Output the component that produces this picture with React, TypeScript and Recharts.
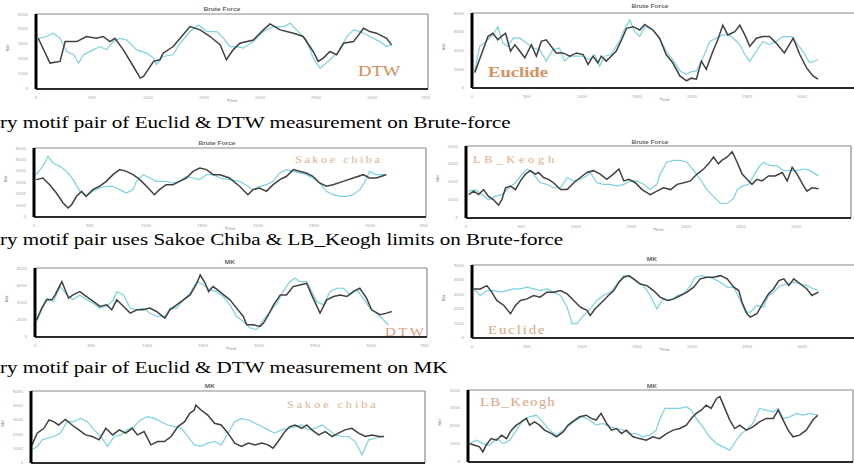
import { LineChart, Line, XAxis, YAxis, ReferenceLine } from "recharts";

// values: [time, value] in axis units (x ticks every 10, y ticks every 10)
const bfDtwDark = [[0.4,33.8],[2.5,17.3],[4.3,18.4],[5.2,31.6],[7.3,31.6],[9.0,35.0],[10.8,33.8],[12.0,35.0],[13.2,31.6],[14.1,33.8],[15.6,26.1],[17.4,15.0],[18.6,7.3],[19.2,8.4],[21.0,18.4],[22.1,19.5],[22.7,23.9],[24.5,28.3],[26.0,35.0],[27.5,41.6],[29.3,39.4],[31.1,35.0],[32.9,29.4],[34.0,19.5],[35.2,26.1],[36.4,30.5],[38.8,32.7],[40.6,39.4],[41.8,43.4],[43.6,39.4],[46.0,37.2],[47.7,35.0],[49.5,25.0],[50.4,18.4],[51.3,20.6],[52.5,25.0],[53.7,22.8],[54.9,30.5],[56.7,31.6],[58.5,40.5],[59.6,38.3],[60.8,37.2],[62.6,33.8],[63.5,29.4]];
const bfDtwCyan = [[0.4,33.8],[1.9,35.0],[3.1,37.2],[4.3,33.8],[5.5,25.0],[6.7,22.8],[7.6,17.3],[8.5,22.8],[10.2,26.1],[11.4,28.3],[12.6,26.1],[13.8,31.6],[15.0,33.8],[16.2,32.7],[18.0,26.1],[19.8,23.9],[21.0,20.6],[21.5,16.2],[22.7,21.7],[24.5,22.8],[25.7,30.5],[27.5,38.3],[29.0,42.7],[30.5,38.3],[32.3,38.3],[33.5,33.8],[34.6,28.3],[35.8,28.3],[37.0,27.2],[38.8,31.6],[40.6,38.3],[42.4,41.6],[44.2,41.6],[45.4,43.8],[47.1,37.2],[48.3,32.7],[49.5,20.6],[50.7,13.9],[52.5,19.5],[54.3,26.1],[55.5,35.0],[56.7,39.4],[57.9,38.3],[59.6,35.0],[61.4,31.6],[62.6,28.3],[63.5,29.4]];

const bfEucDark = [[0.5,16.4],[1.7,35.7],[2.9,54.9],[3.8,58.4],[4.7,51.4],[5.3,54.9],[6.1,58.4],[7.0,39.2],[7.8,46.2],[8.7,39.2],[9.6,32.2],[10.8,46.2],[11.7,33.9],[12.6,49.7],[13.5,51.4],[14.4,44.4],[15.3,37.4],[16.5,37.4],[17.8,33.9],[19.0,37.4],[20.2,35.7],[21.1,25.2],[22.0,33.9],[22.9,26.9],[23.5,33.9],[24.4,28.7],[25.3,33.9],[26.2,39.2],[27.2,51.4],[28.1,63.6],[29.3,65.4],[30.5,61.9],[31.4,67.8],[32.9,61.9],[34.1,53.1],[35.3,35.7],[36.5,26.9],[37.8,12.9],[39.0,7.7],[39.9,10.5],[40.8,9.4],[41.7,28.7],[42.6,19.9],[43.8,39.2],[44.7,51.4],[45.6,67.1],[46.5,56.6],[47.8,60.1],[48.7,67.1],[49.6,56.6],[50.5,44.4],[51.7,53.1],[52.9,54.9],[54.1,54.9],[55.3,47.9],[56.8,37.4],[58.4,53.1],[59.6,35.7],[60.8,21.7],[62.0,12.9],[62.9,9.4]];
const bfEucCyan = [[0.5,18.2],[1.4,44.4],[2.6,49.7],[3.8,56.6],[4.7,65.4],[5.6,47.9],[6.5,44.4],[7.5,53.1],[8.7,53.1],[9.9,47.9],[11.1,42.7],[12.3,40.9],[13.5,28.7],[14.7,40.9],[15.9,42.7],[16.8,28.7],[17.8,33.9],[19.0,33.9],[20.2,33.9],[21.4,30.4],[22.3,35.7],[23.2,23.4],[24.1,33.9],[25.3,35.7],[26.8,49.7],[27.8,63.6],[28.7,72.4],[29.6,60.1],[30.5,54.9],[31.4,65.4],[32.9,61.9],[34.1,53.1],[35.3,39.2],[36.5,30.4],[37.8,18.2],[39.0,14.7],[39.9,17.5],[40.8,18.2],[42.0,32.2],[43.2,49.7],[44.4,53.1],[45.6,56.6],[46.8,56.6],[47.8,51.4],[48.7,46.2],[49.6,35.7],[50.5,28.7],[51.7,39.2],[52.9,49.7],[54.1,46.2],[55.3,49.7],[56.5,54.9],[58.1,54.9],[59.0,47.9],[60.2,39.2],[61.4,26.9],[62.9,30.4]];

const bfSakDark = [[0.4,32.5],[1.6,33.9],[2.8,28.1],[4.0,20.9],[5.2,12.2],[6.1,7.8],[6.7,10.7],[7.6,18.0],[8.5,22.3],[9.3,18.0],[10.5,23.8],[11.7,26.7],[12.9,31.0],[14.1,36.8],[15.3,41.2],[16.5,39.7],[17.7,36.8],[18.9,32.5],[20.1,26.7],[21.5,19.4],[22.4,23.8],[23.6,28.1],[24.8,28.1],[26.0,31.0],[27.2,33.9],[28.4,39.7],[29.6,42.6],[30.8,41.2],[32.0,36.8],[33.2,36.8],[34.9,33.9],[36.7,26.7],[38.2,19.4],[39.1,23.8],[40.3,25.2],[41.5,22.3],[42.7,28.1],[43.9,32.5],[45.1,35.4],[46.3,41.2],[47.4,39.7],[48.6,38.3],[49.8,35.4],[51.0,29.6],[52.2,26.7],[53.4,28.1],[55.2,31.0],[57.0,33.9],[58.8,36.8],[59.9,33.9],[61.1,33.9],[62.9,36.8]];
const bfSakCyan = [[0.4,36.8],[1.6,44.1],[2.5,52.8],[3.4,47.0],[4.6,44.1],[5.8,39.7],[7.0,32.5],[8.2,22.3],[9.3,18.0],[10.5,22.3],[11.7,25.2],[12.9,26.7],[14.1,26.7],[15.3,23.8],[16.5,20.9],[17.7,23.8],[18.3,31.0],[19.5,36.8],[20.7,33.9],[21.8,31.0],[23.6,31.0],[24.8,29.6],[26.0,31.0],[27.2,35.4],[28.4,33.9],[29.6,32.5],[30.8,36.8],[32.0,36.8],[33.2,33.9],[34.9,32.5],[36.7,31.0],[38.2,26.7],[39.1,23.8],[40.3,26.7],[41.5,28.1],[42.7,31.0],[43.9,38.3],[45.1,41.2],[46.3,39.7],[47.4,38.3],[48.6,36.8],[49.8,33.9],[51.0,29.6],[52.2,22.3],[53.4,19.4],[54.6,18.0],[55.8,18.0],[57.0,19.4],[58.2,23.8],[59.3,32.5],[59.9,39.7],[61.1,36.8],[62.9,36.8]];

const bfLbkDark = [[0.5,13.0],[1.4,14.9],[2.3,13.0],[3.2,15.8],[4.1,12.0],[5.0,10.1],[5.9,7.2],[6.5,10.1],[7.2,16.8],[8.1,17.7],[9.0,15.8],[9.9,20.6],[10.8,24.4],[11.7,26.3],[12.6,24.4],[13.2,25.3],[14.1,22.5],[15.0,21.5],[15.9,19.6],[17.2,15.8],[18.4,15.8],[19.6,19.6],[20.8,22.5],[22.0,25.3],[23.2,26.3],[24.4,24.4],[25.6,21.5],[26.8,24.4],[27.8,27.2],[28.7,20.6],[29.6,21.5],[30.8,19.6],[32.0,15.8],[33.5,13.0],[34.7,14.9],[35.9,16.8],[37.2,15.8],[38.4,18.7],[39.6,19.6],[40.8,20.6],[42.0,24.4],[43.2,27.2],[44.1,30.1],[45.0,33.9],[45.9,30.1],[46.5,32.0],[47.5,33.9],[48.4,36.8],[49.3,31.0],[50.2,24.4],[51.1,21.5],[52.0,18.7],[52.9,21.5],[53.8,20.6],[55.0,23.4],[56.2,23.4],[57.5,25.3],[58.4,20.6],[59.3,28.2],[60.2,24.4],[61.4,17.7],[62.0,14.9],[62.9,16.8],[64.1,16.2]];
const bfLbkCyan = [[0.5,14.9],[1.7,15.8],[2.9,13.0],[4.1,10.1],[5.3,12.0],[6.5,13.0],[7.8,16.8],[9.0,19.6],[10.2,24.4],[11.1,27.2],[12.3,24.4],[13.5,19.6],[14.7,18.7],[15.9,16.8],[17.2,16.8],[18.4,22.5],[19.6,20.6],[20.8,21.5],[22.0,23.4],[22.6,25.3],[23.8,19.6],[25.0,18.7],[26.2,18.7],[27.5,17.7],[28.7,18.7],[29.9,20.6],[31.1,20.6],[32.3,18.7],[33.5,15.8],[34.7,18.7],[35.3,24.4],[36.5,31.0],[37.8,32.0],[39.0,32.0],[40.2,31.0],[41.4,26.3],[42.6,21.5],[43.8,15.8],[45.0,12.0],[46.2,8.2],[47.5,8.2],[48.7,11.0],[49.3,15.8],[50.2,17.7],[51.4,18.7],[52.3,23.4],[53.2,28.2],[54.1,31.0],[55.3,29.1],[56.5,29.1],[57.8,26.3],[59.0,26.3],[60.2,26.3],[61.4,27.2],[62.6,26.3],[64.1,23.4]];

const mkDtwDark = [[0.3,20.0],[1.2,33.5],[2.1,43.1],[3.0,43.1],[3.6,48.8],[4.5,60.4],[4.8,64.2],[5.4,54.6],[6.0,45.0],[6.8,48.8],[8.0,52.7],[9.2,46.9],[10.4,41.2],[11.6,35.4],[12.8,37.3],[13.7,31.5],[14.6,43.1],[15.5,37.3],[17.0,27.7],[18.2,31.5],[19.3,31.5],[20.5,33.5],[21.7,29.6],[23.2,21.9],[24.1,31.5],[25.3,37.3],[26.5,43.1],[27.7,48.8],[28.9,62.3],[29.5,71.9],[30.4,62.3],[31.0,52.7],[31.8,58.5],[33.0,52.7],[34.8,43.1],[36.0,33.5],[37.2,23.8],[37.8,14.2],[39.0,14.2],[40.2,12.3],[40.8,16.2],[41.7,25.8],[42.6,37.3],[43.8,48.8],[44.9,48.8],[46.1,58.5],[47.3,60.4],[48.5,62.3],[49.4,48.8],[50.9,27.7],[52.1,43.1],[53.3,46.9],[54.5,48.8],[55.7,46.9],[56.8,52.7],[58.0,56.5],[59.2,45.0],[60.1,31.5],[61.6,25.8],[62.8,27.7],[63.7,29.6]];
const mkDtwCyan = [[0.3,18.1],[1.2,31.5],[2.1,45.0],[3.3,41.2],[4.5,58.5],[5.7,48.8],[6.8,43.1],[8.0,48.8],[9.2,43.1],[10.4,39.2],[11.6,33.5],[12.8,35.4],[14.0,43.1],[14.6,52.7],[15.8,48.8],[17.0,33.5],[18.2,31.5],[19.3,33.5],[20.5,27.7],[21.7,23.8],[23.2,23.8],[24.1,33.5],[25.3,33.5],[26.5,43.1],[27.7,50.8],[28.9,64.2],[30.1,60.4],[31.3,54.6],[32.4,52.7],[33.6,46.9],[34.8,37.3],[36.0,23.8],[37.2,18.1],[38.4,10.4],[39.6,8.5],[40.8,20.0],[42.0,29.6],[43.2,39.2],[44.3,52.7],[45.5,64.2],[46.4,68.1],[47.3,64.2],[48.5,64.2],[49.4,52.7],[50.3,41.2],[51.5,37.3],[52.7,52.7],[53.9,56.5],[55.1,56.5],[56.3,48.8],[57.4,54.6],[58.6,45.0],[59.8,33.5],[61.0,27.7],[62.2,20.0],[63.1,14.2]];

const mkEucDark = [[0.3,33.6],[1.5,33.6],[2.7,35.9],[3.6,31.4],[4.5,25.7],[5.8,22.3],[7.0,16.6],[7.9,22.3],[8.8,25.7],[10.0,26.8],[11.2,29.1],[12.4,28.0],[13.6,31.4],[14.8,31.4],[16.1,32.5],[17.3,30.2],[18.5,25.7],[19.7,21.1],[20.9,18.9],[21.5,15.5],[22.4,20.0],[23.6,24.5],[24.8,29.1],[25.8,32.5],[26.7,38.2],[27.6,41.6],[28.5,42.7],[29.4,40.5],[30.6,37.0],[31.8,35.9],[33.0,32.5],[34.2,28.0],[35.5,25.7],[36.7,26.8],[37.9,29.1],[39.1,31.4],[40.3,34.8],[41.5,40.5],[42.7,41.6],[43.9,41.6],[45.2,42.7],[46.4,40.5],[47.6,34.8],[48.5,32.5],[49.1,24.5],[50.0,16.6],[50.6,14.3],[51.8,16.6],[53.0,24.5],[53.9,30.2],[54.8,33.6],[55.8,39.3],[56.7,40.5],[57.6,35.9],[58.5,40.5],[59.7,37.0],[60.9,33.6],[61.8,29.1],[63.0,31.4]];
const mkEucCyan = [[0.3,33.6],[1.5,29.1],[2.7,32.5],[3.9,32.5],[5.2,31.4],[6.4,32.5],[7.6,33.6],[8.8,33.6],[10.0,34.8],[11.2,33.6],[12.4,32.5],[13.6,33.6],[14.8,31.4],[16.1,29.1],[17.3,21.1],[18.2,9.8],[19.1,9.8],[20.3,15.5],[21.5,20.0],[22.7,25.7],[23.9,29.1],[25.2,31.4],[26.4,37.0],[27.6,42.7],[28.8,41.6],[30.0,38.2],[31.2,35.9],[32.4,29.1],[33.6,20.0],[34.8,26.8],[36.1,25.7],[37.3,29.1],[38.5,30.2],[39.7,35.9],[40.6,41.6],[41.8,42.7],[43.0,41.6],[43.9,40.5],[45.2,38.2],[46.4,34.8],[47.6,34.8],[48.8,25.7],[49.7,17.7],[50.6,17.7],[51.8,22.3],[53.0,21.1],[53.9,29.1],[54.8,31.4],[56.1,35.9],[57.3,37.0],[58.5,38.2],[59.7,37.0],[60.9,35.9],[62.1,33.6],[63.0,32.5]];

const mkSakDark = [[0.2,12.6],[1.1,20.7],[2.3,24.1],[3.2,29.9],[4.0,28.7],[4.9,26.4],[6.1,30.3],[7.3,26.4],[8.5,23.0],[9.7,19.5],[10.9,18.4],[12.1,16.1],[13.3,24.1],[14.5,19.5],[15.7,23.0],[16.8,20.7],[18.0,24.1],[18.9,19.5],[20.1,21.8],[21.3,12.6],[22.5,14.9],[23.7,14.9],[24.9,18.4],[26.1,25.3],[27.3,28.7],[28.2,34.5],[29.0,36.8],[29.3,40.2],[30.2,36.8],[31.4,33.3],[32.6,27.6],[33.8,26.4],[35.0,20.7],[36.2,13.8],[37.4,11.5],[38.6,13.8],[39.8,12.6],[41.0,13.8],[42.1,12.6],[43.0,10.3],[43.9,14.9],[45.1,21.8],[46.0,25.3],[46.9,26.4],[48.1,24.1],[49.0,26.4],[49.9,23.0],[51.1,19.5],[52.3,21.8],[53.5,18.4],[54.6,20.7],[55.8,23.0],[57.0,24.1],[58.2,20.7],[59.4,18.4],[60.6,19.5],[61.8,18.4],[62.7,18.4]];
const mkSakCyan = [[0.2,9.2],[1.1,11.5],[2.0,16.1],[2.9,17.2],[4.0,18.4],[5.2,20.7],[6.4,28.7],[7.6,28.7],[8.8,31.0],[10.0,28.7],[11.2,23.0],[12.4,18.4],[13.6,11.5],[14.8,18.4],[16.0,19.5],[17.1,23.0],[18.3,25.3],[19.5,29.9],[20.7,32.2],[21.9,31.0],[23.1,28.7],[24.3,26.4],[25.5,25.3],[26.7,24.1],[27.9,18.4],[29.0,12.6],[30.2,11.5],[31.4,13.8],[32.6,14.9],[33.8,12.6],[35.0,20.7],[36.2,28.7],[37.4,31.0],[38.6,29.9],[39.8,27.6],[41.0,25.3],[42.1,23.0],[43.3,20.7],[44.5,23.0],[45.7,24.1],[46.9,25.3],[48.1,26.4],[49.3,23.0],[50.5,24.1],[51.7,26.4],[52.9,23.0],[54.0,19.5],[55.2,18.4],[56.4,18.4],[57.6,14.9],[58.8,5.7],[60.0,16.1],[61.2,17.2],[62.7,18.4]];

const mkLbkDark = [[0.3,10.2],[1.2,9.3],[2.1,8.4],[2.7,5.6],[3.3,9.3],[4.2,13.0],[5.2,12.1],[6.1,14.9],[7.0,13.0],[7.9,17.7],[8.8,20.5],[9.7,22.3],[10.6,24.2],[11.2,20.5],[12.1,22.3],[13.0,20.5],[13.9,17.7],[15.2,15.8],[16.1,14.0],[17.3,16.7],[18.2,20.5],[19.4,23.3],[20.3,25.1],[21.5,26.0],[22.4,24.2],[23.3,23.3],[24.2,27.0],[25.2,21.4],[26.1,17.7],[27.0,18.6],[27.9,15.8],[28.8,17.7],[30.0,14.0],[31.2,13.0],[32.4,12.1],[33.6,14.0],[34.8,13.0],[36.1,15.8],[37.3,17.7],[38.5,18.6],[39.7,20.5],[40.6,24.2],[41.5,27.0],[42.4,28.8],[43.3,31.6],[44.2,29.8],[45.2,35.3],[45.8,36.3],[46.7,29.8],[47.6,23.3],[48.5,18.6],[49.4,20.5],[50.6,17.7],[51.8,19.5],[53.0,22.3],[54.2,24.2],[55.5,24.2],[56.4,28.8],[57.3,23.3],[58.2,17.7],[59.1,14.0],[60.3,14.9],[61.5,17.7],[62.7,23.3],[63.6,26.0]];
const mkLbkCyan = [[0.3,10.2],[1.5,12.1],[2.7,10.2],[3.9,9.3],[5.2,13.0],[6.4,10.2],[7.6,12.1],[8.8,17.7],[10.0,23.3],[11.2,25.1],[12.4,26.0],[13.6,22.3],[14.8,17.7],[16.1,14.9],[17.3,17.7],[18.5,20.5],[19.7,23.3],[20.9,25.1],[22.1,23.3],[23.3,20.5],[24.5,21.4],[25.8,19.5],[27.0,18.6],[28.2,17.7],[29.4,15.8],[30.6,15.8],[31.8,14.0],[33.0,14.9],[34.2,17.7],[34.8,23.3],[35.8,29.8],[37.3,29.8],[38.5,29.8],[39.7,30.7],[40.6,28.8],[41.5,24.2],[42.7,19.5],[43.9,14.0],[45.2,10.2],[46.4,8.4],[47.6,6.5],[48.8,12.1],[49.7,15.8],[50.6,17.7],[51.8,21.4],[53.0,29.8],[54.2,28.8],[55.5,27.9],[56.4,29.8],[57.3,24.2],[58.5,25.1],[59.7,27.0],[60.9,26.0],[62.1,27.0],[63.6,26.0]];

const captions = [
  "ry motif pair of Euclid & DTW measurement on Brute-force",
  "ry motif pair uses Sakoe Chiba & LB_Keogh limits on Brute-force",
  "ry motif pair of Euclid & DTW measurement on MK",
];

const xTicksFull = [0, 10, 20, 30, 40, 50, 60, 70];
const xTicksRight = [0, 10, 20, 30, 40, 50, 60];

const AX_W = 36;
const STRETCH = "scaleX(1.24)";
const toRows = (pts: number[][]) => pts.map(([t, v]) => ({ t, v }));

type PanelProps = {
  left: number; top: number; w: number; h: number; yMax: number;
  dark: number[][]; cyan: number[][]; xTicks: number[]; showX?: boolean;
};

const Panel = ({ left, top, w, h, yMax, dark, cyan, xTicks, showX = true }: PanelProps) => {
  const yTicks: number[] = [];
  for (let v = 0; v <= yMax; v += 10) yTicks.push(v);
  const tickStyle = { fontSize: 4, fill: "#aaa", fontFamily: "DejaVu Sans" };
  return (
    <div style={{ position: "absolute", left: left - AX_W, top: top - 2 }}>
      <LineChart width={AX_W + w + 2} height={h + 18} margin={{ top: 2, right: 2, bottom: 0, left: 0 }}>
        <XAxis type="number" dataKey="t" domain={[0, 70]} ticks={xTicks} allowDataOverflow
          tickFormatter={(v: number) => String(v * 50)} height={16} tickLine={false} tickMargin={1}
          axisLine={{ stroke: "#2a2a2a", strokeWidth: 2 }} tick={showX ? tickStyle : false}
          label={showX ? { value: "Time", position: "insideBottom", offset: 3, fontSize: 4, fill: "#888", fontFamily: "DejaVu Sans" } : undefined} />
        <YAxis type="number" domain={[0, yMax]} ticks={yTicks} allowDataOverflow width={AX_W}
          tickFormatter={(v: number) => String(v * 100)} tickLine={false} tickMargin={2}
          axisLine={{ stroke: "#000", strokeWidth: 3 }} tick={tickStyle}
          label={{ value: "Nbr", angle: -90, position: "insideLeft", offset: 8, fontSize: 4, fill: "#777", fontFamily: "DejaVu Sans" }} />
        <ReferenceLine y={yMax} stroke="#8a8a8a" strokeWidth={1.2} ifOverflow="visible" />
        <ReferenceLine x={70} stroke="#8a8a8a" strokeWidth={1.2} ifOverflow="visible" />
        <Line data={toRows(cyan)} dataKey="v" type="linear" stroke="#7ad2e4" strokeWidth={1.2} dot={false} isAnimationActive={false} />
        <Line data={toRows(dark)} dataKey="v" type="linear" stroke="#404040" strokeWidth={1.5} dot={false} isAnimationActive={false} />
      </LineChart>
    </div>
  );
};

const Title = ({ x, y, text }: { x: number; y: number; text: string }) => (
  <div style={{ position: "absolute", left: x, top: y, transform: "translate(-50%, -50%) scaleX(1.1)", fontFamily: "Liberation Sans", fontWeight: "bold", fontSize: 6, color: "#666", lineHeight: 1, whiteSpace: "nowrap" }}>{text}</div>
);

const Tag = ({ x, y, text, size, bold, spacing, color }: { x: number; y: number; text: string; size: number; bold?: boolean; spacing: number; color: string }) => (
  <div style={{ position: "absolute", left: x, top: y, transform: STRETCH, transformOrigin: "left top", fontFamily: "Liberation Serif", fontSize: size, fontWeight: bold ? "bold" : "normal", letterSpacing: spacing, color, lineHeight: 1, whiteSpace: "nowrap" }}>{text}</div>
);

const Caption = ({ y, text }: { y: number; text: string }) => (
  <div style={{ position: "absolute", left: 0, top: y, transform: STRETCH, transformOrigin: "left top", fontFamily: "Liberation Serif", fontSize: 17, color: "#000", lineHeight: 1, whiteSpace: "nowrap" }}>{text}</div>
);

export default function App() {
  return (
    <div style={{ position: "absolute", left: 0, top: 0, width: 854, height: 467, overflow: "hidden", background: "#fff" }}>
      <Panel left={36} top={14} w={392} h={75} yMax={50} dark={bfDtwDark} cyan={bfDtwCyan} xTicks={xTicksFull} />
      <Panel left={472} top={13} w={385} h={75} yMax={80} dark={bfEucDark} cyan={bfEucCyan} xTicks={xTicksRight} />
      <Panel left={34} top={148} w={392} h={69} yMax={60} dark={bfSakDark} cyan={bfSakCyan} xTicks={xTicksFull} />
      <Panel left={466} top={146} w={385} h={72} yMax={40} dark={bfLbkDark} cyan={bfLbkCyan} xTicks={xTicksRight} />
      <Panel left={35} top={268} w={392} h={69} yMax={80} dark={mkDtwDark} cyan={mkDtwCyan} xTicks={xTicksFull} />
      <Panel left={472} top={265} w={385} h={73} yMax={50} dark={mkEucDark} cyan={mkEucCyan} xTicks={xTicksRight} />
      <Panel left={31} top={391} w={394} h={72} yMax={50} dark={mkSakDark} cyan={mkSakCyan} xTicks={xTicksFull} showX={false} />
      <Panel left={468} top={390} w={385} h={72} yMax={40} dark={mkLbkDark} cyan={mkLbkCyan} xTicks={xTicksRight} showX={false} />

      <Title x={222} y={9} text="Brute Force" />
      <Title x={650} y={6} text="Brute Force" />
      <Title x={217} y={143} text="Brute Force" />
      <Title x={650} y={142} text="Brute Force" />
      <Title x={230} y={262} text="MK" />
      <Title x={652} y={259} text="MK" />
      <Title x={210} y={386} text="MK" />
      <Title x={652} y={386} text="MK" />

      <Tag x={358} y={64} text="DTW" size={15} spacing={0} color="#d58b58" />
      <Tag x={488} y={65} text="Euclide" size={15} bold spacing={0} color="#d4925f" />
      <Tag x={295} y={155} text="Sakoe chiba" size={10} spacing={2} color="#e6b196" />
      <Tag x={473} y={155} text="LB_Keogh" size={10} spacing={3} color="#e6ac8c" />
      <Tag x={385} y={326} text="DTW" size={12} spacing={2} color="#dba080" />
      <Tag x={488} y={324} text="Euclide" size={12} spacing={1.5} color="#dca47f" />
      <Tag x={287} y={400} text="Sakoe chiba" size={10} spacing={2.3} color="#e6b196" />
      <Tag x={480} y={396} text="LB_Keogh" size={12} spacing={1} color="#dca47f" />

      <Caption y={114} text={captions[0]} />
      <Caption y={231} text={captions[1]} />
      <Caption y={359} text={captions[2]} />
    </div>
  );
}
